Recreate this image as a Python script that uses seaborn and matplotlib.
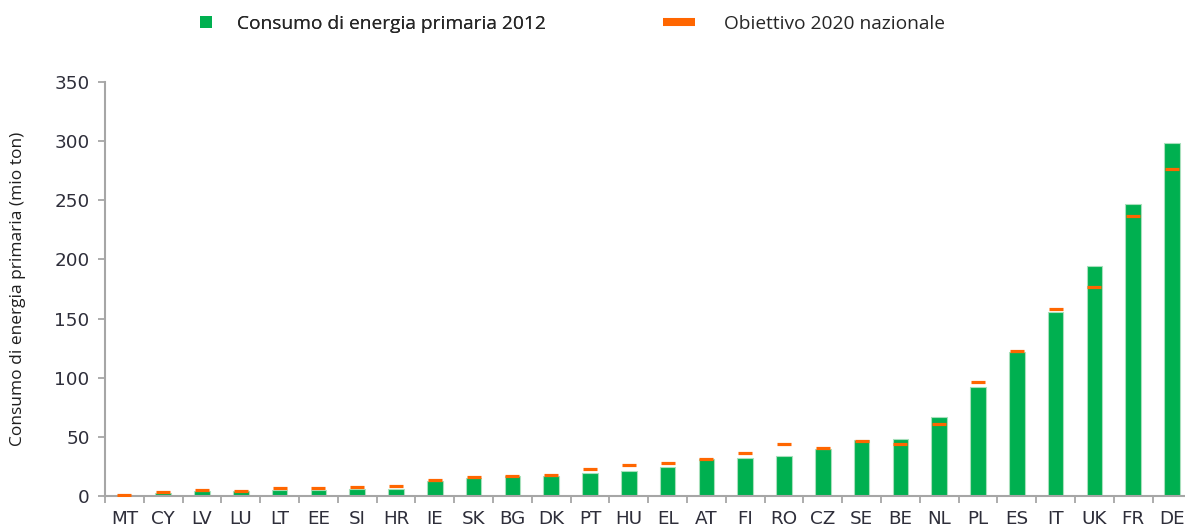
import matplotlib
matplotlib.use("Agg")
import matplotlib.pyplot as plt
import numpy as np
import pandas as pd
import seaborn as sns
from matplotlib.lines import Line2D

# Primary energy consumption 2012 vs national 2020 target (Mtoe)
countries = ["MT", "CY", "LV", "LU", "LT", "EE", "SI", "HR", "IE", "SK", "BG", "DK",
             "PT", "HU", "EL", "AT", "FI", "RO", "CZ", "SE", "BE", "NL", "PL", "ES",
             "IT", "UK", "FR", "DE"]
consumo_2012 = [0.7, 2.2, 4.2, 4.2, 5.0, 4.8, 6.0, 6.0, 12.7, 15.2, 17.0, 16.8,
                19.7, 21.1, 24.8, 31.0, 32.4, 33.5, 39.7, 47.3, 47.9, 66.7, 92.4, 121.5,
                155.8, 194.7, 246.8, 298.1]
obiettivo_2020 = [1.0, 3.0, 5.2, 4.5, 6.5, 6.5, 7.3, 8.5, 13.9, 16.4, 16.9, 17.4,
                  22.6, 26.2, 27.6, 31.5, 36.6, 43.9, 40.3, 46.5, 44.0, 60.6, 96.1, 122.6,
                  158.2, 177.0, 237.0, 276.8]
y_ticks = [0, 50, 100, 150, 200, 250, 300, 350]

label_consumo = "Consumo di energia primaria 2012"
label_obiettivo = "Obiettivo 2020 nazionale"
y_label = "Consumo di energia primaria (mio ton)"

GREEN = "#00B050"
ORANGE = "#FF6600"
AXIS_GREY = "#A6A6A6"
TICK_TEXT = "#2E2E3A"

sns.set_style("white")
plt.rcParams["font.family"] = ["DejaVu Sans"]

df = pd.DataFrame({"paese": countries,
                   "consumo": consumo_2012,
                   "obiettivo": obiettivo_2020})

fig = plt.figure(figsize=(11.85, 5.31), dpi=100)
W, H = 1185, 531
ax = fig.add_axes([105 / W, (H - 496) / H, 1086.4 / W, (496 - 82) / H])

sns.barplot(data=df, x="paese", y="consumo", color=GREEN, saturation=1,
            width=0.4, edgecolor="#A8E0BC", linewidth=0.8, ax=ax, zorder=2)
sns.pointplot(data=df, x="paese", y="obiettivo", color=ORANGE, errorbar=None,
              linestyle="none", marker="_", markersize=10.5, markeredgewidth=2.3,
              ax=ax, zorder=3)

ax.set_xlim(-0.5, len(countries) - 0.5)
ax.set_ylim(0, 350)
ax.set_yticks(y_ticks)
ax.set_xlabel("")
ax.set_ylabel(y_label, family="Open Sans", fontsize=12.5, color="#1E1E1E")
ax.yaxis.set_label_coords(-0.073, 0.5)

for side in ("top", "right"):
    ax.spines[side].set_visible(False)
for side in ("left", "bottom"):
    ax.spines[side].set_color(AXIS_GREY)
    ax.spines[side].set_linewidth(1.5)

ax.tick_params(axis="y", which="major", direction="out", length=5, width=1.3,
               color=AXIS_GREY, labelsize=13.2, labelcolor=TICK_TEXT, pad=6, left=True)
ax.set_xticks(np.arange(-0.5, len(countries), 1.0), minor=True)
ax.tick_params(axis="x", which="major", length=0, labelsize=13.2,
               labelcolor=TICK_TEXT, pad=10)
ax.tick_params(axis="x", which="minor", direction="out", length=5, width=1.3,
               color=AXIS_GREY, bottom=True)
for lbl in ax.get_xticklabels() + ax.get_yticklabels():
    lbl.set_fontfamily("DejaVu Sans")

# Legend across the top
leg_prop = {"family": "Open Sans", "size": 13.8}
h_cons = Line2D([], [], linestyle="none", marker="s", markersize=8.3,
                markerfacecolor=GREEN, markeredgewidth=0)
h_obj = Line2D([], [], color=ORANGE, linewidth=5.8, solid_capstyle="butt")
fs_px = 13.8 * 100 / 72
leg1 = fig.legend([h_cons], [label_consumo], loc="center left",
                  bbox_to_anchor=(200 / W, 1 - 24 / H), frameon=False,
                  borderpad=0, borderaxespad=0, handlelength=11 / fs_px,
                  handletextpad=26 / fs_px, prop=leg_prop)
leg2 = fig.legend([h_obj], [label_obiettivo], loc="center left",
                  bbox_to_anchor=(663 / W, 1 - 24 / H), frameon=False,
                  borderpad=0, borderaxespad=0, handlelength=32 / fs_px,
                  handletextpad=29 / fs_px, prop=leg_prop)
fig.add_artist(leg1)

fig.savefig("out.png", dpi=100)
